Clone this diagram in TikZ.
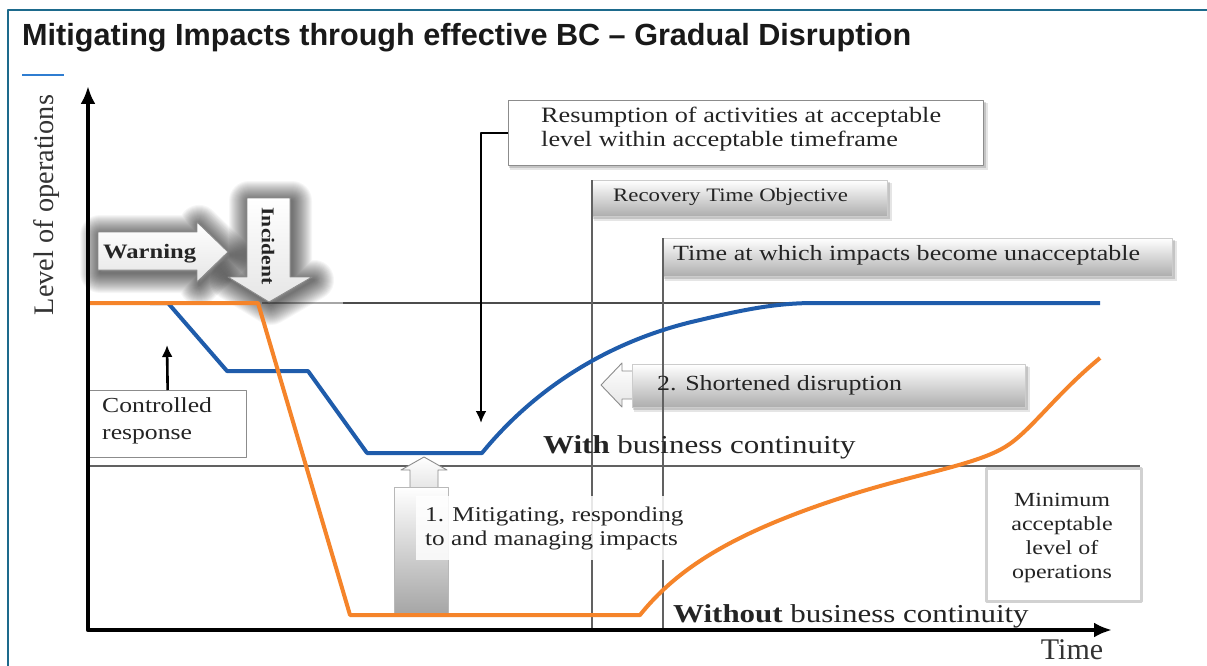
\documentclass[tikz,border=0pt]{standalone}
\usepackage{fontspec}
\setmainfont{Liberation Serif}
\newfontfamily\titlefont{Liberation Sans}
\newfontfamily\cam{Liberation Serif}[FakeStretch=1.2]
\usetikzlibrary{arrows.meta}

\newcommand\fsz[2]{\fontsize{#1}{#2}\selectfont}

\definecolor{frameblue}{HTML}{1D6A8C}
\definecolor{accent}{HTML}{2F7DD1}
\definecolor{orangeline}{HTML}{F5842A}
\definecolor{blueline}{HTML}{1F5CAB}

% outlines of the two block arrows
\newcommand\warnarrowpath[1]{\path[#1] (98,232) -- (197,232) -- (197,222) -- (228,252) -- (197,282) -- (197,270) -- (98,270) -- cycle;}
\newcommand\incidentpath[1]{\path[#1] (247,198) -- (290,198) -- (290,277) -- (312,277) -- (269,302) -- (228,277) -- (247,277) -- cycle;}
% soft shadow behind a rectangle given by two corners
\newcommand\boxshadow[4]{%
  \fill[black,opacity=.10] (#1+2,#2+3) rectangle (#3+5,#4+5);
  \fill[black,opacity=.14] (#1+1,#2+2) rectangle (#3+3,#4+3);}

\begin{document}
\begin{tikzpicture}[x=1pt,y=-1pt,line join=round,
  txt/.style={inner sep=0pt,text=black!86},
  framed/.style={draw=black!45,line width=1.3pt,fill=white,inner sep=0pt},
  gradbox/.style={top color=white,bottom color=black!32,draw=black!20,line width=.6pt,inner sep=0pt},
  guide/.style={draw=black!62,line width=2.2pt},
  wline/.style={line width=4pt,line join=round},
  conn/.style={draw=black,line width=2.6pt,-{Latex[length=12pt,width=11pt]}},
  axis/.style={draw=black,line width=4.2pt,{Latex[length=18pt,width=15pt]}-{Latex[length=18pt,width=15pt]}},
  arrowshape/.style={top color=white,bottom color=black!10,draw=black!45,line width=.9pt}]

\useasboundingbox (0,0) rectangle (1207,666);
\fill[white] (0,0) rectangle (1207,666);

% frame and heading
\draw[frameblue,line width=2pt] (8,666) -- (8,10) -- (1207,10);
\node[anchor=base west,inner sep=0pt,font=\titlefont\bfseries\fsz{30.6}{34},text=black!90] (title) at (22,46)
  {Mitigating Impacts through effective BC – Gradual Disruption};
\draw[accent,line width=2.5pt] (22,75) -- (64,75);

% "2. Shortened disruption" pointer
\path[arrowshape] (601,385) -- (622,363) -- (622,371) -- (640,371) -- (640,399) -- (622,399) -- (622,407) -- cycle;
\boxshadow{632}{364}{1025}{407}
\node[gradbox,anchor=north west,minimum width=393pt,minimum height=43pt] (shortbox) at (632,364) {};

% annotation boxes
\boxshadow{508}{100}{983}{165}
\node[framed,anchor=north west,minimum width=475pt,minimum height=65pt] (resbox) at (508,100) {};
\boxshadow{592}{180}{887}{216}
\node[gradbox,anchor=north west,minimum width=295pt,minimum height=36pt] (rtobox) at (592,180) {};
\boxshadow{663}{238}{1172}{276}
\node[gradbox,anchor=north west,minimum width=509pt,minimum height=38pt] (impbox) at (663,238) {};
\node[framed,anchor=north west,minimum width=158pt,minimum height=67pt] (ctrlbox) at (88,390) {};

% reference levels and time markers
\draw[draw=black!35,line width=1.2pt] (262,303) -- (343,303);
\draw[draw=black!70,line width=1.8pt] (343,303) -- (815,303);
\draw[guide] (88,466) -- (1140,466);
\draw[guide] (592,180) -- (592,630);
\draw[guide] (663,238) -- (663,630);

\node[draw=black!18,line width=3pt,fill=white,anchor=north west,minimum width=155pt,minimum height=133pt,inner sep=0pt] (minbox) at (985,467) {};

% "1. Mitigating" pointer
\path[arrowshape] (424,457) -- (447,470) -- (438,470) -- (438,488) -- (410,488) -- (410,470) -- (401,470) -- cycle;
\node[anchor=north west,minimum width=54pt,minimum height=126pt,inner sep=0pt,top color=white,bottom color=black!35,draw=black!28,line width=.7pt] (mitbody) at (394,487) {};

% blurred shadows of the warning / incident arrows
\begin{scope}[transform canvas={xshift=2pt,yshift=-3pt}]
\foreach \w in {2,4,...,40}{
  \warnarrowpath{draw=black,line width=\w pt,opacity=.035}
  \incidentpath{draw=black,line width=\w pt,opacity=.035}
}
\end{scope}
\warnarrowpath{arrowshape}
\incidentpath{arrowshape}

% level of operations curves
\draw[wline,blueline] (150,303) -- (168,303) -- (227,371) -- (308,371) -- (367,453) -- (482,453)
  .. controls (535,388) and (610,340) .. (700,320)
  .. controls (750,308) and (780,303) .. (815,303) -- (1100,303);
\draw[wline,orangeline] (88,303) -- (258,303) -- (350,615) -- (640,615)
  .. controls (680,565) and (740,530) .. (850,495)
  .. controls (920,473) and (975,465) .. (1005,447)
  .. controls (1030,432) and (1055,395) .. (1100,358);

% axes
\coordinate (ytop) at (88,86);
\coordinate (origin) at (88,630);
\coordinate (xend) at (1112,630);
\draw[axis] (ytop) -- (origin) -- (xend);

% labels
\node[txt,rotate=90,font=\fsz{28.3}{30},text=black!80] (ylabel) at (47,205) {Level of operations};
\node[txt,font=\fsz{30}{32},text=black!80] (xlabel) at (1072,650) {Time};
\node[txt,anchor=base west,font=\cam\bfseries\fsz{20.5}{24}] (warntext) at (103,258) {Warning};
\node[txt,rotate=-90,font=\cam\bfseries\fsz{18}{20}] (inctext) at (268,246) {Incident};
\node[txt,anchor=west,align=left,font=\cam\fsz{21.9}{24}] (restext) at (541,129)
  {Resumption of activities at acceptable\\level within acceptable timeframe};
\node[txt,anchor=west,font=\cam\fsz{19}{22}] (rtotext) at (613,197) {Recovery Time Objective};
\node[txt,anchor=west,font=\cam\fsz{21.7}{24}] (imptext) at (673,255) {Time at which impacts become unacceptable};
\node[txt,anchor=west,font=\cam\fsz{21.6}{24}] (shorttext) at (657,385) {2. Shortened disruption};
\node[txt,anchor=west,align=left,font=\cam\fsz{21.4}{27}] (ctrltext) at (102,421) {Controlled\\response};
\node[txt,align=center,font=\cam\fsz{20}{24}] (mintext) at (1062,538) {Minimum\\acceptable\\level of\\operations};
\node[txt,anchor=west,align=left,fill=white,fill opacity=.85,text opacity=1,inner xsep=9pt,inner ysep=10pt,font=\cam\fsz{21}{24}] (mittext) at (416,528)
  {1. Mitigating, responding\\to and managing impacts};
\node[txt,anchor=base west,font=\cam\fsz{25.8}{28}] (withbc) at (543,453) {\textbf{With} business continuity};
\node[txt,anchor=base west,font=\cam\fsz{25.8}{28}] (withoutbc) at (673,622) {\textbf{Without} business continuity};

% pointers to the curves
\coordinate (resdrop) at (481,423);
\draw[conn] (resbox.west) -| (resdrop);
\coordinate (ctrltip) at (167,345);
\draw[conn] (ctrlbox.north) -- (ctrltip);

\end{tikzpicture}
\end{document}
